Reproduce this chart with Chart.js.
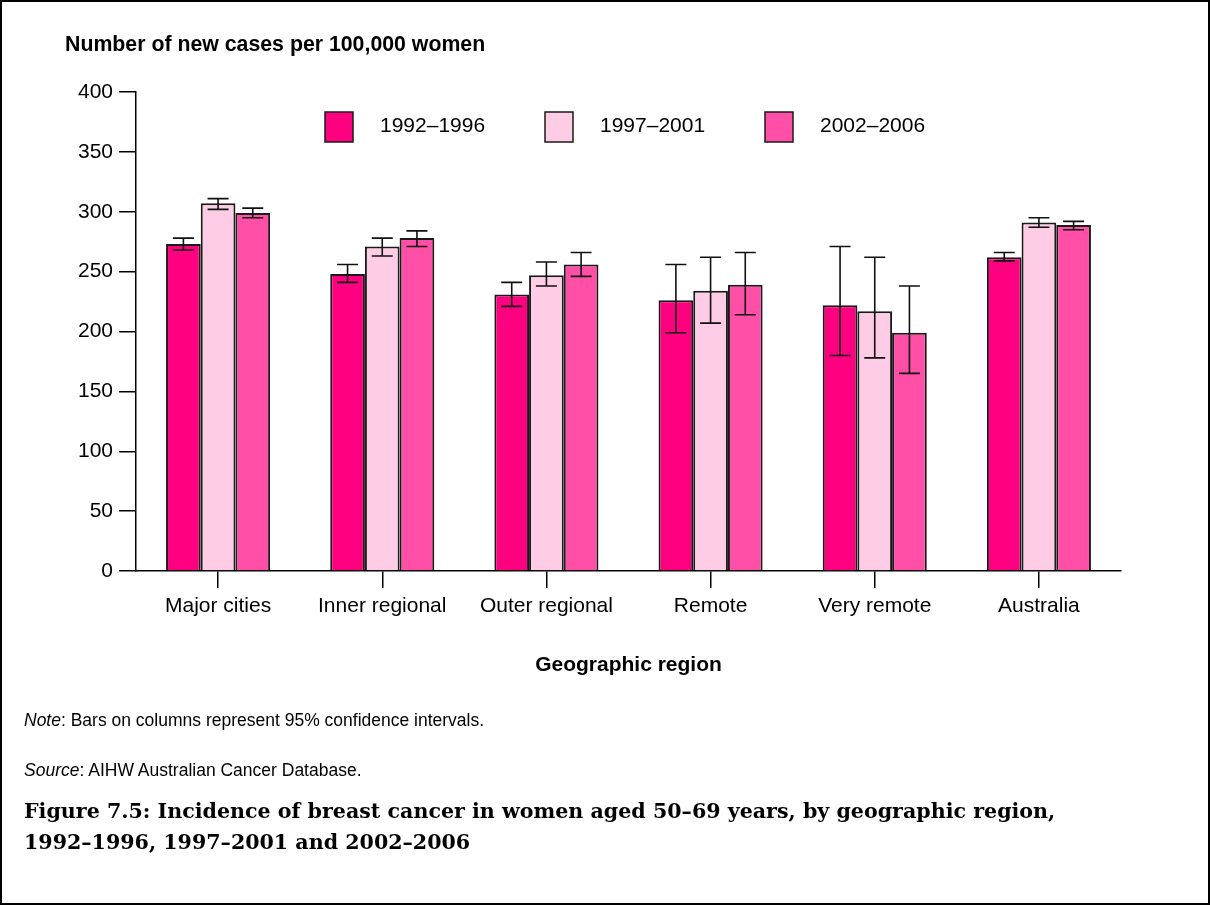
<!DOCTYPE html>
<html>
<head>
<meta charset="utf-8">
<script src="https://cdn.jsdelivr.net/npm/chart.js@4.4.0/dist/chart.umd.min.js"></script>
<style>
  html, body { margin: 0; padding: 0; background: #fff; }
  #frame { position: absolute; left: 0; top: 0; width: 1210px; height: 905px; box-sizing: border-box; border: 2px solid #000; }
  #chart { position: absolute; left: 0; top: 0; }
  .txt { position: absolute; font-family: "Liberation Sans", Arial, sans-serif; color: #000; white-space: nowrap; }
  #yTitle { left: 65px; top: 34px; font-size: 21.3px; font-weight: bold; line-height: 21px; }
  #note { left: 24px; top: 710px; font-size: 17.5px; line-height: 21px; }
  #source { left: 24px; top: 760px; font-size: 17.5px; line-height: 21px; }
  #caption { left: 24px; top: 796px; font-family: "DejaVu Serif", serif; font-weight: bold; font-size: 20.6px; line-height: 31px; }
</style>
</head>
<body>
<canvas id="chart" width="1210" height="905"></canvas>
<div id="frame"></div>
<div class="txt" id="yTitle">Number of new cases per 100,000 women</div>
<div class="txt" id="note"><i>Note</i>: Bars on columns represent 95% confidence intervals.</div>
<div class="txt" id="source"><i>Source</i>: AIHW Australian Cancer Database.</div>
<div class="txt" id="caption">Figure 7.5: Incidence of breast cancer in women aged 50–69 years, by geographic region,<br>1992–1996, 1997–2001 and 2002–2006</div>
<script>
// categories and series
const regions = ['Major cities', 'Inner regional', 'Outer regional', 'Remote', 'Very remote', 'Australia'];
const periods = ['1992–1996', '1997–2001', '2002–2006'];

// rates per 100,000 women
const rate1992 = [273, 248, 231, 226, 222, 262];
const rate1997 = [307, 271, 247, 234, 217, 291];
const rate2002 = [299, 278, 256, 239, 199, 289];

// 95% confidence intervals
const low1992 = [268, 241, 221, 199, 180, 259];
const high1992 = [278, 256, 241, 256, 271, 266];
const low1997 = [302, 263, 238, 207, 178, 287];
const high1997 = [311, 278, 258, 262, 262, 295];
const low2002 = [295, 271, 246, 214, 165, 285];
const high2002 = [303, 284, 266, 266, 238, 292];

const yTicks = [0, 50, 100, 150, 200, 250, 300, 350, 400];

const FONT = '"Liberation Sans", Arial, sans-serif';
Chart.defaults.font.family = FONT;
Chart.defaults.color = '#000';

// draws the CI whiskers on top of each bar
const errorBars = {
  id: 'errorBars',
  afterDatasetsDraw(chart) {
    const ctx = chart.ctx;
    const y = chart.scales.y;
    ctx.save();
    ctx.strokeStyle = '#111';
    ctx.lineWidth = 1.6;
    chart.data.datasets.forEach((ds, i) => {
      chart.getDatasetMeta(i).data.forEach((bar, j) => {
        const top = y.getPixelForValue(ds.ciHigh[j]);
        const bottom = y.getPixelForValue(ds.ciLow[j]);
        ctx.beginPath();
        ctx.moveTo(bar.x, top);
        ctx.lineTo(bar.x, bottom);
        ctx.moveTo(bar.x - 10.5, top);
        ctx.lineTo(bar.x + 10.5, top);
        ctx.moveTo(bar.x - 10.5, bottom);
        ctx.lineTo(bar.x + 10.5, bottom);
        ctx.stroke();
      });
    });
    ctx.restore();
  }
};

// legend row inside the plot, spaced like the original
const legendRow = {
  id: 'legendRow',
  afterDraw(chart) {
    const ctx = chart.ctx;
    ctx.save();
    ctx.font = '21px ' + FONT;
    ctx.textBaseline = 'middle';
    chart.data.datasets.forEach((ds, i) => {
      const x = 325 + i * 220;
      ctx.fillStyle = ds.backgroundColor;
      ctx.fillRect(x, 112, 28, 30);
      ctx.strokeStyle = ds.borderColor;
      ctx.lineWidth = 1.5;
      ctx.strokeRect(x, 112, 28, 30);
      ctx.fillStyle = '#000';
      ctx.fillText(ds.label, x + 55, 126);
    });
    ctx.restore();
  }
};

const colors = ['#FF0080', '#FFCCE5', '#FF4FA7'];
const rates = [rate1992, rate1997, rate2002];
const lows = [low1992, low1997, low2002];
const highs = [high1992, high1997, high2002];

new Chart(document.getElementById('chart'), {
  type: 'bar',
  data: {
    labels: regions,
    datasets: periods.map((p, i) => ({
      label: p,
      data: rates[i],
      ciLow: lows[i],
      ciHigh: highs[i],
      backgroundColor: colors[i],
      borderColor: '#1a1a1a',
      borderWidth: 2,
      categoryPercentage: 0.634,
      barPercentage: 1.0
    }))
  },
  options: {
    responsive: false,
    animation: false,
    layout: { padding: { left: 0, top: 92, right: 89, bottom: 224 } },
    plugins: {
      legend: { display: false },
      tooltip: { enabled: false }
    },
    scales: {
      x: {
        grid: { offset: false, drawOnChartArea: false, drawTicks: true, tickLength: 17, color: '#000', lineWidth: 1.5 },
        border: { display: true, color: '#000', width: 1.5 },
        ticks: { color: '#000', font: { size: 21 }, padding: 6, maxRotation: 0, autoSkip: false },
        title: {
          display: true,
          text: 'Geographic region',
          color: '#000',
          font: { size: 21, weight: 'bold' },
          padding: { top: 0, bottom: 3 }
        },
        afterFit(scale) { scale.height = 110; }
      },
      y: {
        min: 0,
        max: 400,
        afterBuildTicks(scale) { scale.ticks = yTicks.map(v => ({ value: v })); },
        grid: { drawOnChartArea: false, drawTicks: true, tickLength: 17, color: '#000', lineWidth: 1.5 },
        border: { display: true, color: '#000', width: 1.5 },
        ticks: { color: '#000', font: { size: 21 }, padding: 6 },
        afterFit(scale) { scale.width = 136; }
      }
    }
  },
  plugins: [errorBars, legendRow]
});
</script>
</body>
</html>
